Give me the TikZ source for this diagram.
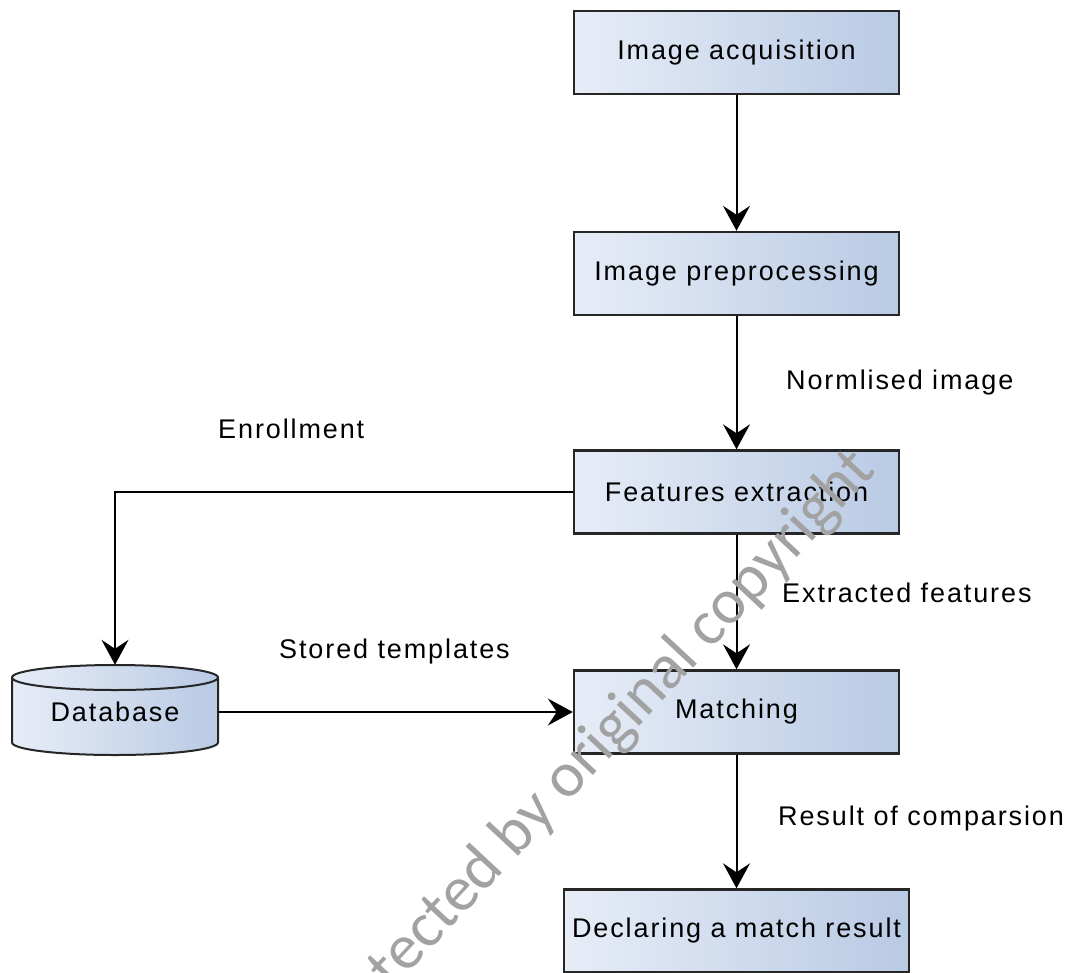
\documentclass[tikz,border=0pt]{standalone}
\usepackage{fontspec}
\setmainfont{Liberation Sans}[LetterSpace=7]
\newfontfamily\wmfont{Carlito}
\usetikzlibrary{arrows.meta}
\definecolor{boxL}{RGB}{231,237,247}
\definecolor{boxR}{RGB}{185,202,228}
\definecolor{wmgray}{RGB}{162,162,162}
\begin{document}
\begin{tikzpicture}[x=1pt,y=-1pt,
  proc/.style={draw=black!85, line width=2.4pt, left color=boxL, right color=boxR,
    minimum width=325pt, minimum height=83pt, inner sep=0pt,
    font=\fontsize{27}{32}\selectfont, text=black},
  arr/.style={draw=black, line width=2pt, -{Stealth[length=25pt,width=27pt,inset=9pt]}},
  lbl/.style={anchor=base west, inner sep=0pt, font=\fontsize{27}{32}\selectfont, text=black}]
\useasboundingbox (0,0) rectangle (1078,972);
\clip (0,0) rectangle (1078,972);

% process boxes
\node[proc] (A) at (736.5,52.5) {Image acquisition};
\node[proc] (B) at (736.5,273.5) {Image preprocessing};
\node[proc] (C) at (736.5,492) {Features extraction};
\node[proc] (D) at (736.5,712) {Matching};
\node[proc, minimum width=345pt] (E) at (736.5,931) {Declaring a match result};

% database cylinder
\path[left color=boxL, right color=boxR, draw=black!85, line width=2pt]
  (12,677.5) -- (12,742.5) arc[start angle=180, end angle=0, x radius=103, y radius=12.5]
  -- (218,677.5) arc[start angle=0, end angle=-180, x radius=103, y radius=12.5] -- cycle;
\draw[black!85, line width=2pt] (12,677.5) arc[start angle=180, end angle=0, x radius=103, y radius=12.5];
\node[inner sep=0pt, minimum width=206pt, minimum height=94pt,
  font=\fontsize{27}{32}\selectfont, text=black] (db) at (115,712) {Database};

% connectors
\draw[arr] (A.south) -- (B.north);
\draw[arr] (B.south) -- (C.north);
\draw[arr] (C.south) -- (D.north);
\draw[arr] (D.south) -- (E.north);
\draw[arr] (C.west) -| (db.north);
\draw[arr] (db.east) -- (D.west);

% labels
\node[lbl] (l1) at (786,389) {Normlised image};
\node[lbl] (l2) at (218,438) {Enrollment};
\node[lbl] (l3) at (782,602) {Extracted features};
\node[lbl] (l4) at (279,658) {Stored templates};
\node[lbl] (l5) at (778,825) {Result of comparsion};

% watermark
\node[anchor=base west, rotate=47, inner sep=0pt, text=wmgray,
  font=\wmfont\fontsize{64}{64}\selectfont] (wm) at (332,1056) {protected by original copyright};
\end{tikzpicture}
\end{document}
